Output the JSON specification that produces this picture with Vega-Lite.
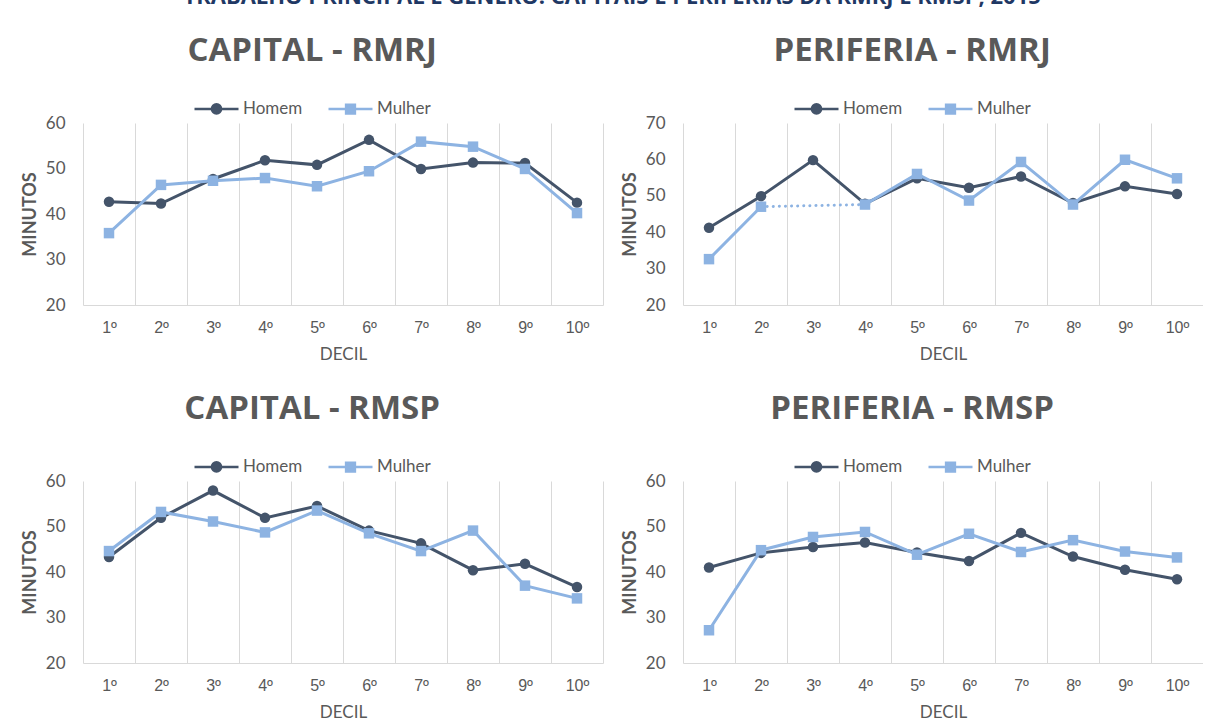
{
  "$schema": "https://vega.github.io/schema/vega-lite/v6.json",
  "background": "white",
  "padding": {"left": 21, "top": -14, "right": 0, "bottom": 0},
  "title": {"text": "TRABALHO PRINCIPAL E GÊNERO: CAPITAIS E PERIFERIAS DA RMRJ E RMSP, 2015", "font": "Open Sans", "fontSize": 22, "fontWeight": "bold", "color": "#1F3864", "anchor": "middle", "frame": "bounds", "offset": 26},
  "datasets": {
    "d": [
      {"painel": "CRJ", "sexo": "Homem", "decil": "1º", "valor": 42.7},
      {"painel": "CRJ", "sexo": "Homem", "decil": "2º", "valor": 42.3},
      {"painel": "CRJ", "sexo": "Homem", "decil": "3º", "valor": 47.7},
      {"painel": "CRJ", "sexo": "Homem", "decil": "4º", "valor": 51.8},
      {"painel": "CRJ", "sexo": "Homem", "decil": "5º", "valor": 50.8},
      {"painel": "CRJ", "sexo": "Homem", "decil": "6º", "valor": 56.3},
      {"painel": "CRJ", "sexo": "Homem", "decil": "7º", "valor": 49.9},
      {"painel": "CRJ", "sexo": "Homem", "decil": "8º", "valor": 51.3},
      {"painel": "CRJ", "sexo": "Homem", "decil": "9º", "valor": 51.2},
      {"painel": "CRJ", "sexo": "Homem", "decil": "10º", "valor": 42.5},
      {"painel": "CRJ", "sexo": "Mulher", "decil": "1º", "valor": 35.8},
      {"painel": "CRJ", "sexo": "Mulher", "decil": "2º", "valor": 46.4},
      {"painel": "CRJ", "sexo": "Mulher", "decil": "3º", "valor": 47.3},
      {"painel": "CRJ", "sexo": "Mulher", "decil": "4º", "valor": 47.9},
      {"painel": "CRJ", "sexo": "Mulher", "decil": "5º", "valor": 46.1},
      {"painel": "CRJ", "sexo": "Mulher", "decil": "6º", "valor": 49.4},
      {"painel": "CRJ", "sexo": "Mulher", "decil": "7º", "valor": 55.9},
      {"painel": "CRJ", "sexo": "Mulher", "decil": "8º", "valor": 54.8},
      {"painel": "CRJ", "sexo": "Mulher", "decil": "9º", "valor": 49.9},
      {"painel": "CRJ", "sexo": "Mulher", "decil": "10º", "valor": 40.2},
      {"painel": "PRJ", "sexo": "Homem", "decil": "1º", "valor": 41.2},
      {"painel": "PRJ", "sexo": "Homem", "decil": "2º", "valor": 49.9},
      {"painel": "PRJ", "sexo": "Homem", "decil": "3º", "valor": 59.8},
      {"painel": "PRJ", "sexo": "Homem", "decil": "4º", "valor": 47.8},
      {"painel": "PRJ", "sexo": "Homem", "decil": "5º", "valor": 54.8},
      {"painel": "PRJ", "sexo": "Homem", "decil": "6º", "valor": 52.2},
      {"painel": "PRJ", "sexo": "Homem", "decil": "7º", "valor": 55.3},
      {"painel": "PRJ", "sexo": "Homem", "decil": "8º", "valor": 48.0},
      {"painel": "PRJ", "sexo": "Homem", "decil": "9º", "valor": 52.6},
      {"painel": "PRJ", "sexo": "Homem", "decil": "10º", "valor": 50.5},
      {"painel": "PRJ", "sexo": "Mulher", "decil": "1º", "valor": 32.6},
      {"painel": "PRJ", "sexo": "Mulher", "decil": "2º", "valor": 47.0},
      {"painel": "PRJ", "sexo": "Mulher", "decil": "3º", "valor": null},
      {"painel": "PRJ", "sexo": "Mulher", "decil": "4º", "valor": 47.6},
      {"painel": "PRJ", "sexo": "Mulher", "decil": "5º", "valor": 56.0},
      {"painel": "PRJ", "sexo": "Mulher", "decil": "6º", "valor": 48.7},
      {"painel": "PRJ", "sexo": "Mulher", "decil": "7º", "valor": 59.3},
      {"painel": "PRJ", "sexo": "Mulher", "decil": "8º", "valor": 47.6},
      {"painel": "PRJ", "sexo": "Mulher", "decil": "9º", "valor": 59.9},
      {"painel": "PRJ", "sexo": "Mulher", "decil": "10º", "valor": 54.8},
      {"painel": "CSP", "sexo": "Homem", "decil": "1º", "valor": 43.3},
      {"painel": "CSP", "sexo": "Homem", "decil": "2º", "valor": 51.9},
      {"painel": "CSP", "sexo": "Homem", "decil": "3º", "valor": 57.9},
      {"painel": "CSP", "sexo": "Homem", "decil": "4º", "valor": 51.9},
      {"painel": "CSP", "sexo": "Homem", "decil": "5º", "valor": 54.5},
      {"painel": "CSP", "sexo": "Homem", "decil": "6º", "valor": 49.1},
      {"painel": "CSP", "sexo": "Homem", "decil": "7º", "valor": 46.3},
      {"painel": "CSP", "sexo": "Homem", "decil": "8º", "valor": 40.4},
      {"painel": "CSP", "sexo": "Homem", "decil": "9º", "valor": 41.8},
      {"painel": "CSP", "sexo": "Homem", "decil": "10º", "valor": 36.7},
      {"painel": "CSP", "sexo": "Mulher", "decil": "1º", "valor": 44.6},
      {"painel": "CSP", "sexo": "Mulher", "decil": "2º", "valor": 53.2},
      {"painel": "CSP", "sexo": "Mulher", "decil": "3º", "valor": 51.1},
      {"painel": "CSP", "sexo": "Mulher", "decil": "4º", "valor": 48.7},
      {"painel": "CSP", "sexo": "Mulher", "decil": "5º", "valor": 53.5},
      {"painel": "CSP", "sexo": "Mulher", "decil": "6º", "valor": 48.5},
      {"painel": "CSP", "sexo": "Mulher", "decil": "7º", "valor": 44.6},
      {"painel": "CSP", "sexo": "Mulher", "decil": "8º", "valor": 49.1},
      {"painel": "CSP", "sexo": "Mulher", "decil": "9º", "valor": 37.0},
      {"painel": "CSP", "sexo": "Mulher", "decil": "10º", "valor": 34.2},
      {"painel": "PSP", "sexo": "Homem", "decil": "1º", "valor": 41.0},
      {"painel": "PSP", "sexo": "Homem", "decil": "2º", "valor": 44.2},
      {"painel": "PSP", "sexo": "Homem", "decil": "3º", "valor": 45.5},
      {"painel": "PSP", "sexo": "Homem", "decil": "4º", "valor": 46.5},
      {"painel": "PSP", "sexo": "Homem", "decil": "5º", "valor": 44.3},
      {"painel": "PSP", "sexo": "Homem", "decil": "6º", "valor": 42.4},
      {"painel": "PSP", "sexo": "Homem", "decil": "7º", "valor": 48.6},
      {"painel": "PSP", "sexo": "Homem", "decil": "8º", "valor": 43.4},
      {"painel": "PSP", "sexo": "Homem", "decil": "9º", "valor": 40.5},
      {"painel": "PSP", "sexo": "Homem", "decil": "10º", "valor": 38.4},
      {"painel": "PSP", "sexo": "Mulher", "decil": "1º", "valor": 27.2},
      {"painel": "PSP", "sexo": "Mulher", "decil": "2º", "valor": 44.8},
      {"painel": "PSP", "sexo": "Mulher", "decil": "3º", "valor": 47.7},
      {"painel": "PSP", "sexo": "Mulher", "decil": "4º", "valor": 48.8},
      {"painel": "PSP", "sexo": "Mulher", "decil": "5º", "valor": 43.8},
      {"painel": "PSP", "sexo": "Mulher", "decil": "6º", "valor": 48.4},
      {"painel": "PSP", "sexo": "Mulher", "decil": "7º", "valor": 44.4},
      {"painel": "PSP", "sexo": "Mulher", "decil": "8º", "valor": 47.0},
      {"painel": "PSP", "sexo": "Mulher", "decil": "9º", "valor": 44.5},
      {"painel": "PSP", "sexo": "Mulher", "decil": "10º", "valor": 43.2}
    ],
    "gap": [
      {"painel": "PRJ", "sexo": "Mulher", "decil": "2º", "valor": 47.0},
      {"painel": "PRJ", "sexo": "Mulher", "decil": "4º", "valor": 47.6}
    ]
  },
  "columns": 2,
  "spacing": {"row": 31, "column": 18},
  "resolve": {"scale": {"y": "independent", "color": "independent", "shape": "independent", "stroke": "independent"}, "legend": {"color": "independent", "shape": "independent", "stroke": "independent"}},
  "concat": [
    {
      "width": 520, "height": 182,
      "title": {"text": "CAPITAL - RMRJ"},
      "data": {"name": "d"},
      "encoding": {
        "x": {"field": "decil", "type": "ordinal", "sort": ["1º","2º","3º","4º","5º","6º","7º","8º","9º","10º"], "scale": {"type": "band", "paddingInner": 0, "paddingOuter": 0}, "title": "DECIL"},
        "y": {"field": "valor", "type": "quantitative", "scale": {"domain": [20, 60], "nice": false, "zero": false}, "axis": {"values": [20, 30, 40, 50, 60]}, "title": "MINUTOS"}
      },
      "layer": [
        {"transform": [{"filter": "datum.painel === 'CRJ' && datum.sexo === 'Homem'"}], "mark": {"type": "line", "strokeWidth": 3, "color": "#44546A"}},
        {"transform": [{"filter": "datum.painel === 'CRJ' && datum.sexo === 'Homem'"}], "mark": {"type": "circle", "size": 110, "opacity": 1, "color": "#44546A"}},
        {"transform": [{"filter": "datum.painel === 'CRJ' && datum.sexo === 'Mulher'"}], "mark": {"type": "line", "strokeWidth": 3, "color": "#8DB3E2"}},
        {"transform": [{"filter": "datum.painel === 'CRJ' && datum.sexo === 'Mulher'"}], "mark": {"type": "square", "size": 110, "opacity": 1, "color": "#8DB3E2"}},
        {"transform": [{"filter": "datum.painel === 'CRJ'"}], "mark": {"type": "point", "filled": true, "opacity": 0, "size": 0}, "encoding": {
          "color": {"field": "sexo", "type": "nominal", "scale": {"domain": ["Homem", "Mulher"], "range": ["#44546A", "#8DB3E2"]}},
          "stroke": {"field": "sexo", "type": "nominal", "scale": {"domain": ["Homem", "Mulher"], "range": ["#44546A", "#8DB3E2"]}},
          "shape": {"field": "sexo", "type": "nominal", "scale": {"domain": ["Homem", "Mulher"], "range": ["M-1,0H1M-0.21,0A0.21,0.21,0,1,1,0.21,0A0.21,0.21,0,1,1,-0.21,0Z", "M-1,0H1M-0.2,-0.2H0.2V0.2H-0.2Z"]}}
        }}
      ]
    },
    {
      "width": 520, "height": 182,
      "title": {"text": "PERIFERIA - RMRJ"},
      "data": {"name": "d"},
      "encoding": {
        "x": {"field": "decil", "type": "ordinal", "sort": ["1º","2º","3º","4º","5º","6º","7º","8º","9º","10º"], "scale": {"type": "band", "paddingInner": 0, "paddingOuter": 0}, "title": "DECIL"},
        "y": {"field": "valor", "type": "quantitative", "scale": {"domain": [20, 70], "nice": false, "zero": false}, "axis": {"values": [20, 30, 40, 50, 60, 70]}, "title": "MINUTOS"}
      },
      "layer": [
        {"transform": [{"filter": "datum.painel === 'PRJ' && datum.sexo === 'Homem'"}], "mark": {"type": "line", "strokeWidth": 3, "color": "#44546A"}},
        {"transform": [{"filter": "datum.painel === 'PRJ' && datum.sexo === 'Homem'"}], "mark": {"type": "circle", "size": 110, "opacity": 1, "color": "#44546A"}},
        {"data": {"name": "gap"}, "mark": {"type": "line", "strokeWidth": 3, "strokeDash": [0.1, 6], "strokeCap": "round", "color": "#8DB3E2"}},
        {"transform": [{"filter": "datum.painel === 'PRJ' && datum.sexo === 'Mulher'"}], "mark": {"type": "line", "strokeWidth": 3, "color": "#8DB3E2", "invalid": "break-paths-show-domains"}},
        {"transform": [{"filter": "datum.painel === 'PRJ' && datum.sexo === 'Mulher' && datum.valor != null"}], "mark": {"type": "square", "size": 110, "opacity": 1, "color": "#8DB3E2"}},
        {"transform": [{"filter": "datum.painel === 'PRJ'"}], "mark": {"type": "point", "filled": true, "opacity": 0, "size": 0}, "encoding": {
          "color": {"field": "sexo", "type": "nominal", "scale": {"domain": ["Homem", "Mulher"], "range": ["#44546A", "#8DB3E2"]}},
          "stroke": {"field": "sexo", "type": "nominal", "scale": {"domain": ["Homem", "Mulher"], "range": ["#44546A", "#8DB3E2"]}},
          "shape": {"field": "sexo", "type": "nominal", "scale": {"domain": ["Homem", "Mulher"], "range": ["M-1,0H1M-0.21,0A0.21,0.21,0,1,1,0.21,0A0.21,0.21,0,1,1,-0.21,0Z", "M-1,0H1M-0.2,-0.2H0.2V0.2H-0.2Z"]}}
        }}
      ]
    },
    {
      "width": 520, "height": 182,
      "title": {"text": "CAPITAL - RMSP"},
      "data": {"name": "d"},
      "encoding": {
        "x": {"field": "decil", "type": "ordinal", "sort": ["1º","2º","3º","4º","5º","6º","7º","8º","9º","10º"], "scale": {"type": "band", "paddingInner": 0, "paddingOuter": 0}, "title": "DECIL"},
        "y": {"field": "valor", "type": "quantitative", "scale": {"domain": [20, 60], "nice": false, "zero": false}, "axis": {"values": [20, 30, 40, 50, 60]}, "title": "MINUTOS"}
      },
      "layer": [
        {"transform": [{"filter": "datum.painel === 'CSP' && datum.sexo === 'Homem'"}], "mark": {"type": "line", "strokeWidth": 3, "color": "#44546A"}},
        {"transform": [{"filter": "datum.painel === 'CSP' && datum.sexo === 'Homem'"}], "mark": {"type": "circle", "size": 110, "opacity": 1, "color": "#44546A"}},
        {"transform": [{"filter": "datum.painel === 'CSP' && datum.sexo === 'Mulher'"}], "mark": {"type": "line", "strokeWidth": 3, "color": "#8DB3E2"}},
        {"transform": [{"filter": "datum.painel === 'CSP' && datum.sexo === 'Mulher'"}], "mark": {"type": "square", "size": 110, "opacity": 1, "color": "#8DB3E2"}},
        {"transform": [{"filter": "datum.painel === 'CSP'"}], "mark": {"type": "point", "filled": true, "opacity": 0, "size": 0}, "encoding": {
          "color": {"field": "sexo", "type": "nominal", "scale": {"domain": ["Homem", "Mulher"], "range": ["#44546A", "#8DB3E2"]}},
          "stroke": {"field": "sexo", "type": "nominal", "scale": {"domain": ["Homem", "Mulher"], "range": ["#44546A", "#8DB3E2"]}},
          "shape": {"field": "sexo", "type": "nominal", "scale": {"domain": ["Homem", "Mulher"], "range": ["M-1,0H1M-0.21,0A0.21,0.21,0,1,1,0.21,0A0.21,0.21,0,1,1,-0.21,0Z", "M-1,0H1M-0.2,-0.2H0.2V0.2H-0.2Z"]}}
        }}
      ]
    },
    {
      "width": 520, "height": 182,
      "title": {"text": "PERIFERIA - RMSP"},
      "data": {"name": "d"},
      "encoding": {
        "x": {"field": "decil", "type": "ordinal", "sort": ["1º","2º","3º","4º","5º","6º","7º","8º","9º","10º"], "scale": {"type": "band", "paddingInner": 0, "paddingOuter": 0}, "title": "DECIL"},
        "y": {"field": "valor", "type": "quantitative", "scale": {"domain": [20, 60], "nice": false, "zero": false}, "axis": {"values": [20, 30, 40, 50, 60]}, "title": "MINUTOS"}
      },
      "layer": [
        {"transform": [{"filter": "datum.painel === 'PSP' && datum.sexo === 'Homem'"}], "mark": {"type": "line", "strokeWidth": 3, "color": "#44546A"}},
        {"transform": [{"filter": "datum.painel === 'PSP' && datum.sexo === 'Homem'"}], "mark": {"type": "circle", "size": 110, "opacity": 1, "color": "#44546A"}},
        {"transform": [{"filter": "datum.painel === 'PSP' && datum.sexo === 'Mulher'"}], "mark": {"type": "line", "strokeWidth": 3, "color": "#8DB3E2"}},
        {"transform": [{"filter": "datum.painel === 'PSP' && datum.sexo === 'Mulher'"}], "mark": {"type": "square", "size": 110, "opacity": 1, "color": "#8DB3E2"}},
        {"transform": [{"filter": "datum.painel === 'PSP'"}], "mark": {"type": "point", "filled": true, "opacity": 0, "size": 0}, "encoding": {
          "color": {"field": "sexo", "type": "nominal", "scale": {"domain": ["Homem", "Mulher"], "range": ["#44546A", "#8DB3E2"]}},
          "stroke": {"field": "sexo", "type": "nominal", "scale": {"domain": ["Homem", "Mulher"], "range": ["#44546A", "#8DB3E2"]}},
          "shape": {"field": "sexo", "type": "nominal", "scale": {"domain": ["Homem", "Mulher"], "range": ["M-1,0H1M-0.21,0A0.21,0.21,0,1,1,0.21,0A0.21,0.21,0,1,1,-0.21,0Z", "M-1,0H1M-0.2,-0.2H0.2V0.2H-0.2Z"]}}
        }}
      ]
    }
  ],
  "config": {
    "view": {"stroke": null},
    "font": "Lato",
    "title": {"font": "Open Sans", "fontSize": 33, "fontWeight": "bold", "color": "#595959", "anchor": "middle", "frame": "bounds", "offset": 17},
    "axis": {"labelFont": "Lato", "titleFont": "Lato", "labelColor": "#595959", "titleColor": "#595959", "labelFontSize": 17, "titleFontSize": 17, "ticks": false, "domain": false, "grid": false},
    "axisX": {"domain": true, "domainColor": "#D9D9D9", "domainWidth": 1, "grid": true, "gridColor": "#D9D9D9", "gridWidth": 1, "tickBand": "extent", "labelFont": "Liberation Sans", "labelFontSize": 16, "labelPadding": 14, "titleFontWeight": "normal", "titlePadding": 11, "labelAngle": 0},
    "axisY": {"labelPadding": 18, "titleFontWeight": "bold", "titlePadding": 6, "titleFontSize": 18},
    "legend": {"orient": "none", "legendX": 110, "legendY": -38, "direction": "horizontal", "title": null, "symbolSize": 1936, "symbolStrokeWidth": 2.5, "symbolOpacity": 1, "labelFont": "Lato", "labelFontSize": 17, "labelColor": "#595959", "labelOffset": 3, "columnPadding": 20}
  }
}
